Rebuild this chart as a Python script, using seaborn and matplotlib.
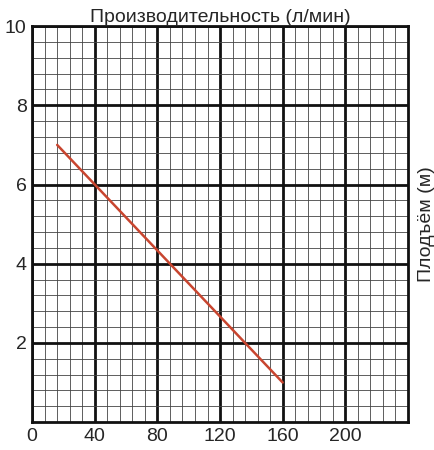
import numpy as np
import pandas as pd
import seaborn as sns
import matplotlib.pyplot as plt
from matplotlib.ticker import MultipleLocator

# Pump curve: flow (l/min) vs head (m)
flow = [16, 160]
head = [7.0, 1.0]
x_ticks = [0, 40, 80, 120, 160, 200]
y_ticks = [2, 4, 6, 8, 10]

df = pd.DataFrame({"flow": flow, "head": head})

sns.set_style("white")
plt.rcParams['font.family'] = ['Liberation Sans', 'DejaVu Sans']

fig, ax = plt.subplots(figsize=(4.34, 4.5), dpi=100)
fig.subplots_adjust(left=0.074, right=0.94, top=0.942, bottom=0.062)

sns.lineplot(x="flow", y="head", data=df, color="#c8452f", lw=1.8, ax=ax, zorder=5)

ax.set_xlim(0, 240)
ax.set_ylim(0, 10)
ax.xaxis.set_minor_locator(MultipleLocator(8))
ax.yaxis.set_minor_locator(MultipleLocator(0.4))
ax.grid(which="major", color="#111111", lw=2.0)
ax.grid(which="minor", color="#444444", lw=0.6)
ax.set_axisbelow(True)
for s in ax.spines.values():
    s.set_color("#111111")
    s.set_linewidth(2)

ax.set_xticks(x_ticks)
ax.set_xticklabels([str(v) for v in x_ticks], fontsize=14)
ax.set_yticks(y_ticks)
ax.set_yticklabels([str(v) for v in y_ticks], fontsize=14)
ax.tick_params(length=0, pad=4)

ax.set_xlabel(None)
ax.set_ylabel(None)
ax.set_title("Производительность (л/мин)", fontsize=14, pad=3)
ax.text(1.05, 0.5, "Плодъём (м)", transform=ax.transAxes, rotation=90,
        ha="center", va="center", fontsize=14)

plt.savefig("out.png")
plt.close()
